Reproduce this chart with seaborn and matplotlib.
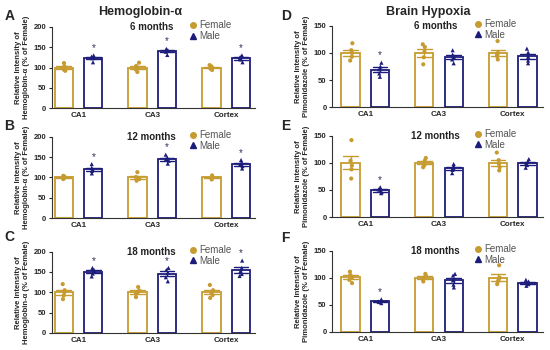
import numpy as np
import pandas as pd
import matplotlib
matplotlib.use("Agg")
import matplotlib.pyplot as plt
from matplotlib.lines import Line2D
import seaborn as sns

sns.set_style("ticks")
plt.rcParams['font.family'] = ['Liberation Sans', 'DejaVu Sans']
np.random.seed(3)

regions = ["CA1", "CA3", "Cortex"]
sexes = ["Female", "Male"]
months = ["6 months", "12 months", "18 months"]

# Hemoglobin-alpha, one list per region (CA1, CA3, Cortex)
hb_6m_female = [[111, 103, 99, 95, 92], [112, 104, 100, 95, 89], [106, 103, 100, 97, 94]]
hb_6m_male = [[130, 127, 125, 123, 113], [146, 143, 141, 139, 131], [130, 126, 123, 120, 113]]
hb_12m_female = [[104, 102, 100, 98, 96], [113, 101, 98, 96, 92], [105, 102, 100, 98, 95]]
hb_12m_male = [[133, 124, 119, 116, 110], [156, 149, 145, 141, 134], [143, 137, 132, 128, 122]]
hb_18m_female = [[120, 105, 100, 92, 83], [113, 104, 100, 96, 88], [118, 105, 98, 93, 86]]
hb_18m_male = [[160, 155, 150, 146, 139], [160, 155, 148, 137, 127], [178, 160, 152, 145, 140]]

# Pimonidazole (brain hypoxia)
pimo_6m_female = [[118, 105, 100, 93, 86], [116, 111, 102, 92, 79], [122, 100, 97, 94, 88]]
pimo_6m_male = [[82, 75, 70, 62, 56], [105, 97, 92, 88, 81], [108, 101, 93, 86, 81]]
pimo_12m_female = [[142, 104, 95, 88, 71], [109, 104, 100, 96, 92], [119, 105, 98, 92, 86]]
pimo_12m_male = [[55, 51, 49, 46, 44], [98, 94, 90, 87, 81], [107, 103, 99, 96, 91]]
pimo_18m_female = [[111, 105, 100, 96, 90], [107, 103, 100, 97, 93], [123, 100, 96, 93, 88]]
pimo_18m_male = [[60, 58, 56, 55, 53], [107, 104, 95, 87, 82], [96, 93, 90, 88, 85]]

hb_stars = ["CA1", "CA3", "Cortex"]   # male significant
pimo_stars = ["CA1"]

palette = {"Female": "#C69B30", "Male": "#1C1C7A"}
markers = {"Female": "o", "Male": "^"}


def make_df(female, male):
    rows = []
    for sex, groups in (("Female", female), ("Male", male)):
        for reg, vals in zip(regions, groups):
            for v in vals:
                rows.append((reg, sex, v))
    return pd.DataFrame(rows, columns=["region", "sex", "value"])


def draw(ax, df, ymax, ystep, ylabel, label, starred, xlim):
    for sex in sexes:
        sub = df[df.sex == sex]
        sns.barplot(data=sub, x="region", y="value", hue="sex", order=regions,
                    hue_order=sexes, palette=palette, fill=False, width=0.8, gap=0.38,
                    dodge=True, errorbar="se", capsize=0.4, linewidth=1.3,
                    err_kws={"color": palette[sex], "linewidth": 1.0},
                    legend=False, ax=ax)
        sns.stripplot(data=sub, x="region", y="value", hue="sex", order=regions,
                      hue_order=sexes, palette=palette, dodge=True, jitter=0.05,
                      marker=markers[sex], size=3, linewidth=0, legend=False, ax=ax)
    for reg in starred:
        top = df[(df.sex == "Male") & (df.region == reg)].value.max()
        ax.text(regions.index(reg) + 0.2, top + 0.09 * ymax, "*", ha="center",
                va="center", fontsize=7, color="#333355")
    ax.set_ylim(0, ymax)
    ax.set_yticks(np.arange(0, ymax + 1, ystep))
    ax.set_xlim(*xlim)
    ax.set_xlabel("")
    ax.set_ylabel(ylabel, fontsize=5.5, fontweight="bold", labelpad=3, linespacing=1.1)
    ax.tick_params(axis="y", labelsize=5.5, length=2.5, width=0.8, pad=1.5)
    ax.tick_params(axis="x", labelsize=5.8, length=0, pad=3)
    for t in ax.get_xticklabels():
        t.set_fontweight("bold")
    for t in ax.get_yticklabels():
        t.set_fontweight("bold")
    sns.despine(ax=ax)
    for s in ("left", "bottom"):
        ax.spines[s].set_linewidth(0.8)
        ax.spines[s].set_color("#333333")
    ax.text(0.49, 1.0, label, transform=ax.transAxes, ha="center", va="center",
            fontsize=7, fontweight="bold", color="#222222")
    handles = [Line2D([], [], marker=markers[s], color=palette[s], linestyle="",
                      markersize=4) for s in sexes]
    ax.legend(handles, sexes, loc="upper left", bbox_to_anchor=(0.64, 1.14),
              frameon=False, fontsize=7, handletextpad=0.1, labelspacing=0.05,
              borderpad=0, handlelength=1.2, labelcolor="#555555")


fig = plt.figure(figsize=(5.5, 3.5), dpi=100)
bottoms = [0.691, 0.377, 0.049]
hb_sets = [(hb_6m_female, hb_6m_male), (hb_12m_female, hb_12m_male), (hb_18m_female, hb_18m_male)]
pimo_sets = [(pimo_6m_female, pimo_6m_male), (pimo_12m_female, pimo_12m_male),
             (pimo_18m_female, pimo_18m_male)]

for i in range(3):
    ax = fig.add_axes([0.0945, bottoms[i], 0.369, 0.232])
    draw(ax, make_df(*hb_sets[i]), 200, 50,
         "Relative Intensity of\nHemoglobin-\u03b1 (% of Female)",
         months[i], hb_stars, (-0.36, 2.39))
    ax = fig.add_axes([0.604, bottoms[i] + 0.003, 0.383, 0.232])
    draw(ax, make_df(*pimo_sets[i]), 150, 50,
         "Relative Intensity of\nPimonidazole (% of Female)",
         months[i], pimo_stars, (-0.45, 2.41))

fig.text(0.255, 0.965, "Hemoglobin-\u03b1", ha="center", va="center", fontsize=9, fontweight="bold")
fig.text(0.778, 0.965, "Brain Hypoxia", ha="center", va="center", fontsize=9, fontweight="bold")
for letter, x, y in [("A", 0.008, 0.955), ("B", 0.008, 0.64), ("C", 0.008, 0.322),
                     ("D", 0.512, 0.955), ("E", 0.512, 0.64), ("F", 0.512, 0.32)]:
    fig.text(x, y, letter, ha="left", va="center", fontsize=10, fontweight="bold")

fig.savefig("out.png", dpi=100)
